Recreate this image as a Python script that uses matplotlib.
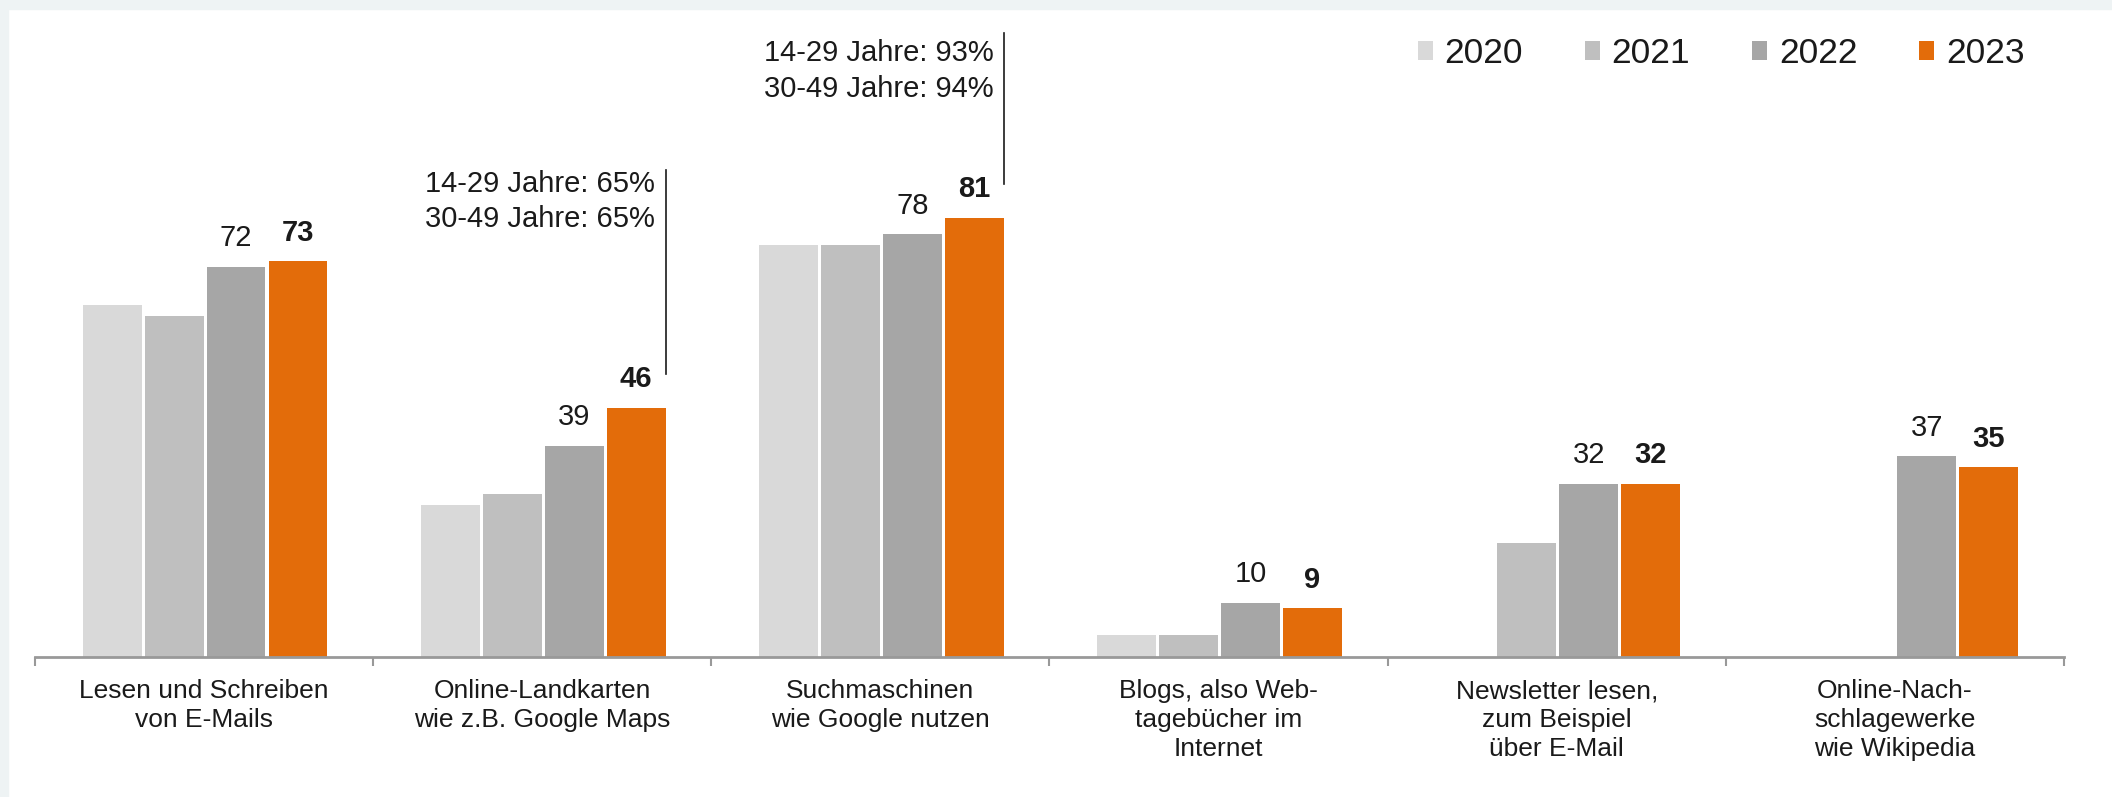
import matplotlib
matplotlib.use('Agg')
import matplotlib.pyplot as plt
import numpy as np
from matplotlib.patches import Patch, Rectangle

plt.rcParams['font.family'] = ['Liberation Sans', 'DejaVu Sans']
plt.rcParams['text.color'] = '#1a1a1a'

# data
categories = ["Lesen und Schreiben\nvon E-Mails",
              "Online-Landkarten\nwie z.B. Google Maps",
              "Suchmaschinen\nwie Google nutzen",
              "Blogs, also Web-\ntagebücher im\nInternet",
              "Newsletter lesen,\nzum Beispiel\nüber E-Mail",
              "Online-Nach-\nschlagewerke\nwie Wikipedia"]
years = ["2020", "2021", "2022", "2023"]
v2020 = [65, 28, 76, 4, np.nan, np.nan]
v2021 = [63, 30, 76, 4, 21, np.nan]
v2022 = [72, 39, 78, 10, 32, 37]
v2023 = [73, 46, 81, 9, 32, 35]
series = [v2020, v2021, v2022, v2023]
colors = ['#d9d9d9', '#bfbfbf', '#a6a6a6', '#e36c0a']
# age group notes for 2023 (category index -> text)
notes = {1: "14-29 Jahre: 65%\n30-49 Jahre: 65%",
         2: "14-29 Jahre: 93%\n30-49 Jahre: 94%"}

W, H = 2112, 797
fig = plt.figure(figsize=(W / 100, H / 100), dpi=100)
fig.patch.set_facecolor('white')
# light frame strips of the screenshot
fig.add_artist(Rectangle((0, 1 - 9 / H), 1, 9 / H, transform=fig.transFigure,
                         color='#eef3f4', zorder=0))
fig.add_artist(Rectangle((0, 0), 8 / W, 1, transform=fig.transFigure,
                         color='#eef3f4', zorder=0))

ax = fig.add_axes([35 / W, 140 / H, (2064 - 35) / W, (H - 140) / H])
ax.set_facecolor('none')

x = np.arange(len(categories))
step = 0.183
width = 0.174
for i, (vals, c) in enumerate(zip(series, colors)):
    vals = np.array(vals, dtype=float)
    m = ~np.isnan(vals)
    xs = x + (i - 1.5) * step + 0.003
    ax.bar(xs[m], vals[m], width=width, color=c, linewidth=0, zorder=2)
    if i >= 2:
        for xi, v in zip(xs[m], vals[m]):
            ax.annotate(f"{int(v)}", (xi, v), xytext=(0, 10.5),
                        textcoords='offset points', ha='center', va='bottom',
                        fontsize=21, fontweight='bold' if i == 3 else 'normal')

# notes with vertical lines at the 2023 bars
line_tops = {1: 89.9, 2: 115.1}
for k, txt in notes.items():
    xl = x[k] + 1.5 * step + 0.003 + width / 2
    y0 = v2023[k] + 6.2
    y1 = line_tops[k]
    ax.plot([xl, xl], [y0, y1], color='#1a1a1a', lw=1.2, zorder=3)
    ax.annotate(txt, (xl, y1), xytext=(-7.5, 0 if k == 1 else -4.5),
                textcoords='offset points', ha='right', va='top',
                fontsize=21, linespacing=1.33)

ax.set_xlim(-0.5, len(categories) - 0.5)
ax.set_ylim(0, (H - 140) / 5.42)

for s in ['top', 'right', 'left']:
    ax.spines[s].set_visible(False)
ax.spines['bottom'].set_color('#999999')
ax.spines['bottom'].set_linewidth(2)
ax.set_yticks([])
ax.set_xticks(x)
ax.set_xticklabels(categories, fontsize=19, linespacing=1.26)
ax.set_xticks(np.arange(-0.5, len(categories)), minor=True)
ax.tick_params(axis='x', which='major', length=0, pad=16, colors='#1a1a1a')
ax.tick_params(axis='x', which='minor', length=6.5, width=1.5, color='#999999')

handles = [Patch(facecolor=c, edgecolor='none') for c in colors]
fig.legend(handles, years, loc='upper left', bbox_to_anchor=(1418 / W, 1 - 37 / H),
           ncol=4, frameon=False, fontsize=25.5, borderpad=0, borderaxespad=0,
           handlelength=0.43, handleheight=0.43, handletextpad=0.32,
           columnspacing=1.75)

fig.savefig('out.png', dpi=100, facecolor=fig.get_facecolor())
